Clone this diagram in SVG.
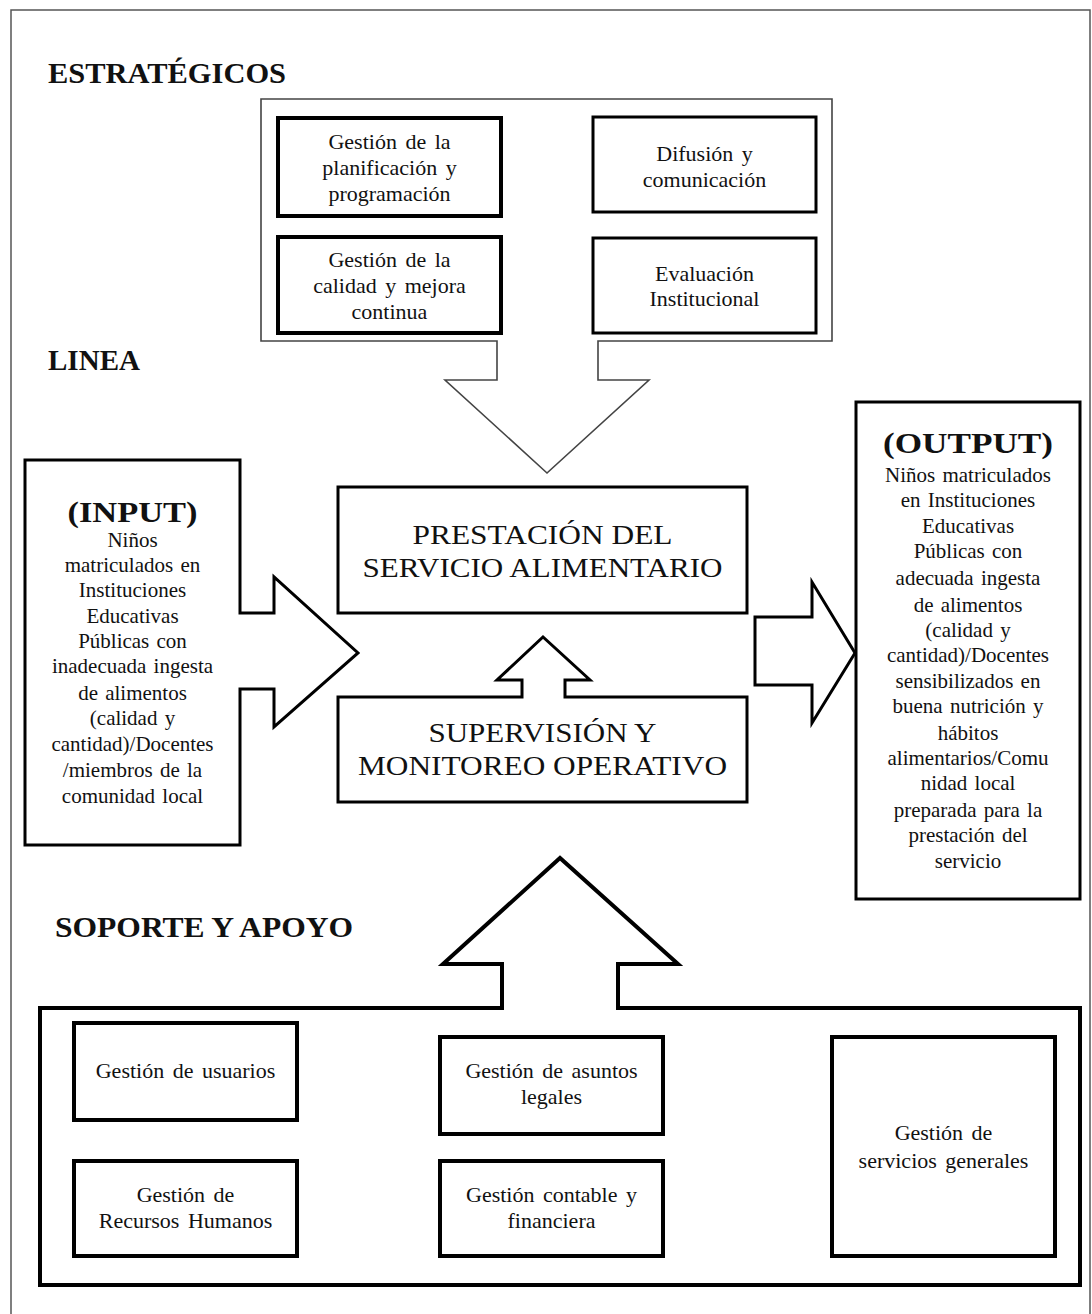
<svg xmlns="http://www.w3.org/2000/svg" width="1092" height="1314" viewBox="0 0 1092 1314">
<style>
  .frame { fill: none; stroke: #555; stroke-width: 1.5; }
  .thin { fill: #fff; stroke: #444; stroke-width: 1.6; }
  .box { fill: #fff; stroke: #000; stroke-width: 3; }
  .boxb { fill: #fff; stroke: #000; stroke-width: 4; }
  .head { font-family: "Liberation Serif", "Times New Roman", serif; font-weight: bold; font-size: 30px; fill: #111; }
  .t { font-family: "Liberation Serif", "Times New Roman", serif; font-size: 22px; fill: #111; text-anchor: middle; word-spacing: 3px; }
  .io { font-family: "Liberation Serif", "Times New Roman", serif; font-size: 21px; fill: #111; text-anchor: middle; word-spacing: 2px; }
  .iot { font-family: "Liberation Serif", "Times New Roman", serif; font-weight: bold; font-size: 30px; fill: #111; text-anchor: middle; }
  .big { font-family: "Liberation Serif", "Times New Roman", serif; font-size: 28px; fill: #111; text-anchor: middle; }
</style>
<rect x="0" y="0" width="1092" height="1314" fill="#fff"/>
<rect class="frame" x="11" y="10" width="1079" height="1320"/>

<text class="head" x="48" y="83" textLength="238" lengthAdjust="spacingAndGlyphs">ESTRATÉGICOS</text>
<text class="head" x="48" y="370" textLength="92" lengthAdjust="spacingAndGlyphs">LINEA</text>
<text class="head" x="55" y="937" textLength="298" lengthAdjust="spacingAndGlyphs">SOPORTE Y APOYO</text>

<g id="connectors">
  <path id="arrow-strategic" class="thin" d="M261,99 H832 V341 H598 V380 H649 L547,473 L445,380 H497 V341 H261 Z"/>
  <path id="arrow-output" class="box" d="M755,617 H812 V582 L855,653 L812,723 V685 H755 Z"/>
</g>

<g id="strategic-1">
  <rect class="boxb" x="278" y="118" width="223" height="98"/>
  <text class="t" font-size="23" x="389.5" y="149">Gestión de la</text>
  <text class="t" font-size="23" x="389.5" y="175">planificación y</text>
  <text class="t" font-size="23" x="389.5" y="201">programación</text>
</g>
<g id="strategic-2">
  <rect class="box" x="593" y="117" width="223" height="95"/>
  <text class="t" font-size="23" x="704.5" y="161">Difusión y</text>
  <text class="t" font-size="23" x="704.5" y="187">comunicación</text>
</g>
<g id="strategic-3">
  <rect class="boxb" x="278" y="237" width="223" height="96"/>
  <text class="t" font-size="23" x="389.5" y="267">Gestión de la</text>
  <text class="t" font-size="23" x="389.5" y="293">calidad y mejora</text>
  <text class="t" font-size="23" x="389.5" y="319">continua</text>
</g>
<g id="strategic-4">
  <rect class="box" x="593" y="238" width="223" height="95"/>
  <text class="t" font-size="23" x="704.5" y="281">Evaluación</text>
  <text class="t" font-size="23" x="704.5" y="306">Institucional</text>
</g>

<g id="input">
  <path class="box" d="M25,460 H240 V613 H274 V577 L358,653 L274,727 V689 H240 V845 H25 Z"/>
  <text class="iot" x="132.5" y="522" textLength="130" lengthAdjust="spacingAndGlyphs">(INPUT)</text>
  <text class="io" x="132.5" y="547">Niños</text>
  <text class="io" x="132.5" y="572">matriculados en</text>
  <text class="io" x="132.5" y="597">Instituciones</text>
  <text class="io" x="132.5" y="623">Educativas</text>
  <text class="io" x="132.5" y="648">Públicas con</text>
  <text class="io" x="132.5" y="673">inadecuada ingesta</text>
  <text class="io" x="132.5" y="700">de alimentos</text>
  <text class="io" x="132.5" y="725">(calidad y</text>
  <text class="io" x="132.5" y="751">cantidad)/Docentes</text>
  <text class="io" x="132.5" y="777">/miembros de la</text>
  <text class="io" x="132.5" y="803">comunidad local</text>
</g>

<g id="prestacion">
  <rect class="box" x="338" y="487" width="409" height="126"/>
  <text class="big" x="542.5" y="544" textLength="260" lengthAdjust="spacingAndGlyphs">PRESTACIÓN DEL</text>
  <text class="big" x="542.5" y="577" textLength="360" lengthAdjust="spacingAndGlyphs">SERVICIO ALIMENTARIO</text>
</g>

<g id="supervision">
  <path class="box" d="M338,697 H522 V680 H497 L543,637 L590,680 H565 V697 H747 V802 H338 Z"/>
  <text class="big" x="542.5" y="742" textLength="228" lengthAdjust="spacingAndGlyphs">SUPERVISIÓN Y</text>
  <text class="big" x="542.5" y="775" textLength="369" lengthAdjust="spacingAndGlyphs">MONITOREO OPERATIVO</text>
</g>

<g id="output">
  <rect class="box" x="856" y="402" width="224" height="497"/>
  <text class="iot" x="968" y="453" textLength="170" lengthAdjust="spacingAndGlyphs">(OUTPUT)</text>
  <text class="io" x="968" y="482">Niños matriculados</text>
  <text class="io" x="968" y="507">en Instituciones</text>
  <text class="io" x="968" y="533">Educativas</text>
  <text class="io" x="968" y="558">Públicas con</text>
  <text class="io" x="968" y="585">adecuada ingesta</text>
  <text class="io" x="968" y="612">de alimentos</text>
  <text class="io" x="968" y="637">(calidad y</text>
  <text class="io" x="968" y="662">cantidad)/Docentes</text>
  <text class="io" x="968" y="688">sensibilizados en</text>
  <text class="io" x="968" y="713">buena nutrición y</text>
  <text class="io" x="968" y="740">hábitos</text>
  <text class="io" x="968" y="765">alimentarios/Comu</text>
  <text class="io" x="968" y="790">nidad local</text>
  <text class="io" x="968" y="817">preparada para la</text>
  <text class="io" x="968" y="842">prestación del</text>
  <text class="io" x="968" y="868">servicio</text>
</g>

<g id="support">
  <path class="boxb" d="M40,1008 H502 V964 H443 L560,858 L678,964 H618 V1008 H1080 V1285 H40 Z"/>
</g>
<g id="support-usuarios">
  <rect class="boxb" x="74" y="1023" width="223" height="97"/>
  <text class="t" x="185.5" y="1078">Gestión de usuarios</text>
</g>
<g id="support-rrhh">
  <rect class="boxb" x="74" y="1161" width="223" height="95"/>
  <text class="t" x="185.5" y="1202">Gestión de</text>
  <text class="t" x="185.5" y="1228">Recursos Humanos</text>
</g>
<g id="support-legales">
  <rect class="boxb" x="440" y="1037" width="223" height="97"/>
  <text class="t" x="551.5" y="1078">Gestión de asuntos</text>
  <text class="t" x="551.5" y="1104">legales</text>
</g>
<g id="support-contable">
  <rect class="boxb" x="440" y="1161" width="223" height="95"/>
  <text class="t" x="551.5" y="1202">Gestión contable y</text>
  <text class="t" x="551.5" y="1228">financiera</text>
</g>
<g id="support-servicios">
  <rect class="boxb" x="832" y="1037" width="223" height="219"/>
  <text class="t" x="943.5" y="1140">Gestión de</text>
  <text class="t" x="943.5" y="1168">servicios generales</text>
</g>
</svg>
